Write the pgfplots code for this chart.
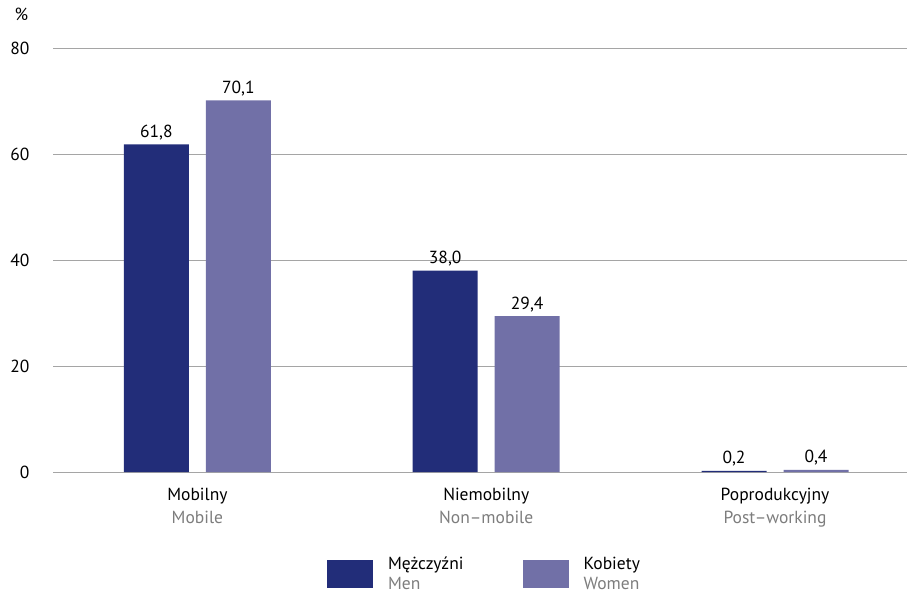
\documentclass[border=0pt]{standalone}
\usepackage{pgfplots}
\pgfplotsset{compat=1.18}
\usepackage{fontspec}
\setmainfont{PT Sans}
\definecolor{darkbar}{RGB}{34,45,121}
\definecolor{lightbar}{RGB}{113,112,167}
\definecolor{gridgray}{RGB}{165,165,165}
\definecolor{subgray}{RGB}{125,125,125}
\begin{document}
\begin{tikzpicture}
\useasboundingbox (0,0) rectangle (907pt,-593pt);
\begin{axis}[
  at={(53pt,-472pt)}, anchor=south west,
  scale only axis, width=854pt, height=424pt,
  xmin=-0.5, xmax=2.457, ymin=0, ymax=80,
  ybar, bar width=65pt,
  ytick={0,20,40,60,80},
  xtick={0,1,2},
  xticklabels={{Mobilny\\\textcolor{subgray}{Mobile}},{Niemobilny\\\textcolor{subgray}{Non–mobile}},{Poprodukcyjny\\\textcolor{subgray}{Post–working}}},
  axis x line*=bottom, axis y line*=left,
  x axis line style={draw=gridgray, line width=0.8pt, -},
  y axis line style={draw=none},
  ymajorgrids, grid style={draw=gridgray, line width=0.8pt},
  major tick length=0pt,
  tick label style={font=\fontsize{17.5}{23}\selectfont},
  xticklabel style={align=center, yshift=-13pt},
  yticklabel style={anchor=east, xshift=-20pt},
  /pgf/number format/assume math mode=true,
  /pgf/number format/use comma,
  nodes near coords,
  nodes near coords style={font=\fontsize{17.5}{20}\selectfont, /pgf/number format/fixed, /pgf/number format/fixed zerofill, /pgf/number format/precision=1, /pgf/number format/use comma, /pgf/number format/assume math mode=true, yshift=1pt},
  legend columns=2,
  legend cell align=left,
  legend style={at={(axis description cs:0.5053,-0.19)}, anchor=north, draw=none, fill=none,
     font=\fontsize{17.5}{20}\selectfont, nodes={align=left},
     /tikz/every odd column/.append style={column sep=13pt},
     /tikz/every even column/.append style={column sep=57pt}},
  legend image code/.code={\fill[#1] (0pt,-14pt) rectangle (46pt,14pt);},
  clip=false,
]
\addplot[bar shift=-41pt, fill=darkbar, draw=none] coordinates {(0,61.8) (1,38.0) (2,0.2)};
\addlegendentry{Mężczyźni\\\textcolor{subgray}{Men}}
\addplot[bar shift=41pt, fill=lightbar, draw=none] coordinates {(0,70.1) (1,29.4) (2,0.4)};
\addlegendentry{Kobiety\\\textcolor{subgray}{Women}}
\node[anchor=base west, font=\fontsize{17.5}{19}\selectfont] at (axis description cs:-0.049,1.065) {\%};
\end{axis}
\end{tikzpicture}
\end{document}
